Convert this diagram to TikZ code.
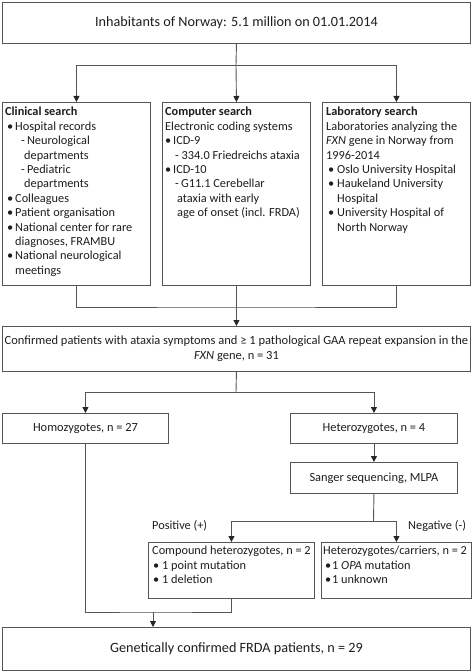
\documentclass[tikz,border=0pt]{standalone}
\usepackage{fontspec}
\setmainfont{Carlito}
\usetikzlibrary{arrows.meta}
\definecolor{linec}{HTML}{555555}
\definecolor{textc}{HTML}{1E1E1E}
\newcommand{\bul}[2]{\hspace*{#1pt}\makebox[#2pt][l]{\textbullet}}
\newcommand{\ind}[1]{\hspace*{#1pt}}
\begin{document}
\begin{tikzpicture}[x=1pt,y=-1pt,
  box/.style={draw=linec, line width=0.9pt, inner sep=0, anchor=north west, fill=white},
  txt/.style={anchor=north west, inner sep=0, align=left, font=\fontsize{12.3}{14.4}\selectfont, text=textc},
  ctr/.style={inner sep=0, text=textc, align=center},
  ln/.style={draw=linec, line width=0.9pt},
  arr/.style={ln, -{Triangle[length=6pt,width=6pt,fill=black!85,color=black!85]}}]
\useasboundingbox (0,0) rectangle (472,671);
% boxes
\node[box, minimum width=468pt, minimum height=41pt] (top) at (2,2) {};
\node[box, minimum width=148pt, minimum height=183pt] (clin) at (2,102) {};
\node[box, minimum width=148pt, minimum height=183pt] (comp) at (162,102) {};
\node[box, minimum width=148pt, minimum height=183pt] (lab) at (322,102) {};
\node[box, minimum width=468pt, minimum height=45pt] (mid) at (2,326) {};
\node[box, minimum width=166pt, minimum height=30pt] (homo) at (2,413) {};
\node[box, minimum width=167pt, minimum height=30pt] (het) at (290,413) {};
\node[box, minimum width=167pt, minimum height=31pt] (sang) at (290,462) {};
\node[box, minimum width=166pt, minimum height=56pt] (cmpd) at (148,542) {};
\node[box, minimum width=150pt, minimum height=56pt] (carr) at (321,542) {};
\node[box, minimum width=468pt, minimum height=43pt] (fin) at (2,627) {};
% centered texts
\node[ctr, font=\fontsize{14.2}{16}\selectfont] (topt) at (top.center) {Inhabitants of Norway: 5.1 million on 01.01.2014};
\node[ctr, font=\fontsize{12.5}{15}\selectfont] (midt) at (mid.center) {Confirmed patients with ataxia symptoms and ≥ 1 pathological GAA repeat expansion in the\\\textit{FXN} gene, n = 31};
\node[ctr, font=\fontsize{12.4}{14}\selectfont] (homot) at (homo.center) {Homozygotes, n = 27};
\node[ctr, font=\fontsize{12.4}{14}\selectfont] (hett) at (het.center) {Heterozygotes, n = 4};
\node[ctr, font=\fontsize{12.4}{14}\selectfont] (sangt) at (sang.center) {Sanger sequencing, MLPA};
\node[ctr, font=\fontsize{14.2}{16}\selectfont] (fint) at (fin.center) {Genetically confirmed FRDA patients, n = 29};
% box texts
\node[txt] (clint) at (5,107) {\textbf{Clinical search}\\
\bul{2}{8}Hospital records\\
\ind{16}-\,Neurological\\
\ind{19}departments\\
\ind{16}-\,Pediatric\\
\ind{19}departments\\
\bul{2}{8}Colleagues\\
\bul{2}{8}Patient organisation\\
\bul{2}{8}National center for rare\\
\ind{10}diagnoses, FRAMBU\\
\bul{2}{8}National neurological\\
\ind{10}meetings};
\node[txt] (compt) at (165,107) {\textbf{Computer search}\\
Electronic coding systems\\
\bul{0}{8}ICD-9\\
\ind{10}- 334.0 Friedreichs ataxia\\
\bul{0}{8}ICD-10\\
\ind{10}-\,G11.1 Cerebellar\\
\ind{12}ataxia with early\\
\ind{12}age of onset (incl. FRDA)};
\node[txt] (labt) at (326,107) {\textbf{Laboratory search}\\
Laboratories analyzing the\\
\textit{FXN} gene in Norway from\\
1996-2014\\
\bul{2}{9}Oslo University Hospital\\
\bul{2}{9}Haukeland University\\
\ind{11}Hospital\\
\bul{2}{9}University Hospital of\\
\ind{11}North Norway};
\node[txt] (cmpdt) at (152,546) {Compound heterozygotes, n = 2\\
\bul{1}{9}1 point mutation\\
\bul{1}{9}1 deletion};
\node[txt] (carrt) at (323,546) {Heterozygotes/carriers, n = 2\\
\bul{2}{7}1 \textit{OPA} mutation\\
\bul{2}{7}1 unknown};
\node[txt, anchor=base west] (pos) at (152,529) {Positive (+)};
\node[txt, anchor=base west] (neg) at (408,529) {Negative (-)};
% connectors
\coordinate (j1) at (236,65);
\draw[ln] (top.south) -- (j1);
\draw[arr] (j1) -| (clin.north);
\draw[arr] (j1) -| (lab.north);
\draw[arr] (j1) -- (comp.north);
\coordinate (j2) at (236,307);
\draw[ln] (clin.south) |- (j2) -| (lab.south);
\draw[arr] (comp.south) -- (mid.north);
\coordinate (j3) at (236,392);
\draw[ln] (mid.south) -- (j3);
\draw[arr] (j3) -| (homo.north);
\draw[arr] (j3) -| (het.north);
\draw[arr] (het.south) -- (sang.north);
\coordinate (j4) at (373.5,521);
\draw[ln] (sang.south) -- (j4);
\draw[arr] (j4) -| (cmpd.north);
\draw[arr] (j4) -| (carr.north);
\coordinate (j5) at (153,612);
\draw[ln] (homo.south) |- (j5) -| (cmpd.south);
\draw[arr] (j5) -- (j5 |- fin.north);
\end{tikzpicture}
\end{document}
